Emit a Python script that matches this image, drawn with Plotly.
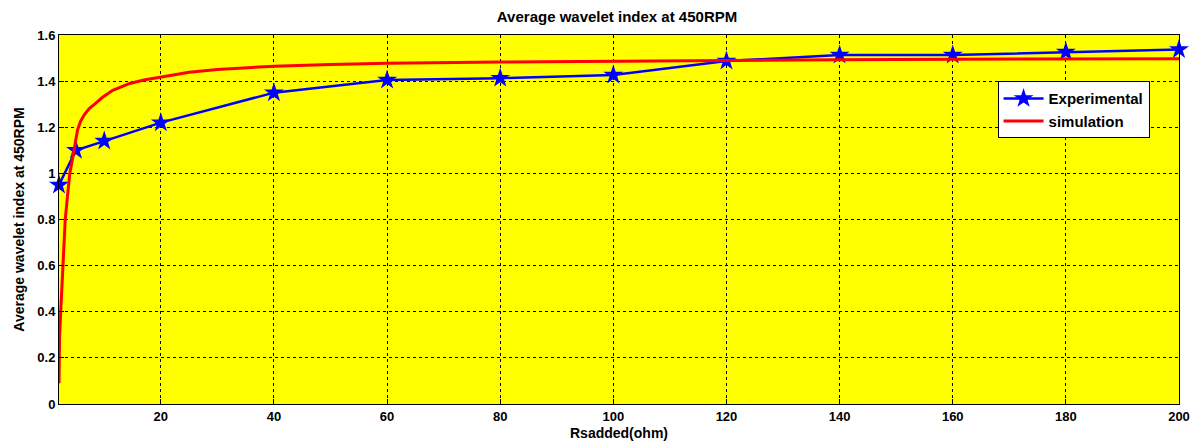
import plotly.graph_objects as go

# Added rotor resistance (ohm) and measured index
rs_exp = [2, 5, 10, 20, 40, 60, 80, 100, 120, 140, 160, 180, 200]
idx_exp = [0.95, 1.10, 1.14, 1.22, 1.35, 1.405, 1.413, 1.427, 1.487, 1.513, 1.513, 1.526, 1.537]

# Simulated index
rs_sim = [2.0, 2.1, 2.3, 2.5, 2.7, 2.9, 3.1, 3.5, 3.9, 4.3, 4.6, 5.0, 5.3, 5.8, 6.5, 7.3,
          8.3, 9.7, 11.5, 14.5, 17, 20, 25, 30, 40, 50, 60, 80, 100, 120, 140, 160, 180, 200]
idx_sim = [0.09, 0.29, 0.40, 0.50, 0.60, 0.70, 0.80, 0.90, 1.00, 1.05, 1.10, 1.15, 1.19,
           1.225, 1.255, 1.28, 1.30, 1.33, 1.36, 1.39, 1.405, 1.418, 1.438, 1.450, 1.465,
           1.472, 1.477, 1.483, 1.487, 1.490, 1.493, 1.495, 1.496, 1.497]

x_ticks = [20, 40, 60, 80, 100, 120, 140, 160, 180, 200]
y_ticks = [0, 0.2, 0.4, 0.6, 0.8, 1, 1.2, 1.4, 1.6]
y_labels = ["0", "0.2", "0.4", "0.6", "0.8", "1", "1.2", "1.4", "1.6"]

font_family = "Liberation Sans, Arial, sans-serif"

fig = go.Figure()
fig.add_trace(go.Scatter(
    x=rs_exp, y=idx_exp, name="Experimental", mode="lines+markers",
    line=dict(color="#0000FF", width=2.5),
    marker=dict(symbol="star", size=15, color="#0000FF"),
    cliponaxis=False,
))
fig.add_trace(go.Scatter(
    x=rs_sim, y=idx_sim, name="simulation", mode="lines",
    line=dict(color="#FF0000", width=3),
))

axis_common = dict(
    showline=True, linecolor="black", linewidth=1, mirror=True,
    showgrid=True, gridcolor="black", gridwidth=1, griddash="3px,3px",
    zeroline=False, ticks="inside", ticklen=5, tickcolor="black",
    automargin=False,
    tickfont=dict(family=font_family, size=13, color="black", weight="bold"),
)

fig.update_layout(
    width=1197, height=441,
    margin=dict(l=59, r=18, t=35, b=37),
    paper_bgcolor="white", plot_bgcolor="#FFFF00",
    title=dict(text="<b>Average wavelet index at 450RPM</b>", x=0.5155, y=0.961,
               xanchor="center", yanchor="middle",
               font=dict(family=font_family, size=15, color="black")),
    xaxis=dict(range=[2, 200], tickvals=x_ticks,
               title=dict(text="<b>Rsadded(ohm)</b>", standoff=5,
                          font=dict(family=font_family, size=14, color="black")),
               **axis_common),
    yaxis=dict(range=[0, 1.6], tickvals=y_ticks, ticktext=y_labels,
               title=dict(text="<b>Average wavelet index at 450RPM</b>", standoff=9,
                          font=dict(family=font_family, size=14, color="black")),
               **axis_common),
    legend=dict(x=0.838, y=0.875, xanchor="left", yanchor="top",
                bgcolor="white", bordercolor="black", borderwidth=1,
                font=dict(family=font_family, size=15, color="black", weight="bold"),
                tracegroupgap=0, itemwidth=40),
    showlegend=True,
)

fig.write_html("out.html")
